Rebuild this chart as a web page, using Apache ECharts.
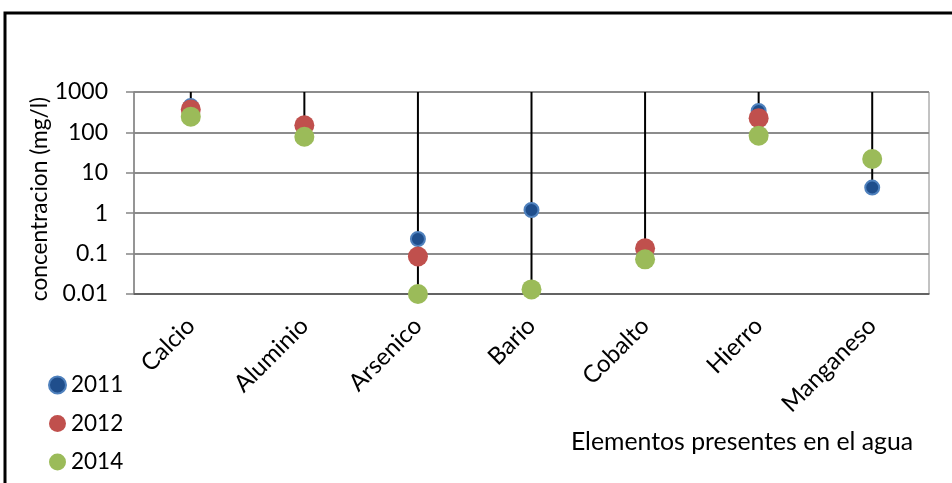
<!DOCTYPE html>
<html>
<head>
<meta charset="utf-8">
<script src="https://cdn.jsdelivr.net/npm/echarts@6/dist/echarts.min.js"></script>
<style>
  html, body { margin: 0; padding: 0; background: #fff; }
  #chart { width: 952px; height: 483px; }
</style>
</head>
<body>
<div id="chart"></div>
<script>
// Elements measured in water samples, concentration in mg/l (log scale)
const categories = ['Calcio', 'Aluminio', 'Arsenico', 'Bario', 'Cobalto', 'Hierro', 'Manganeso'];
const values2011 = [450, null, 0.23, 1.2, null, 340, 4.3];
const values2012 = [370, 150, 0.085, null, 0.135, 225, null];
const values2014 = [245, 78, 0.01, 0.013, 0.072, 83, 22];
const yTicks = [0.01, 0.1, 1, 10, 100, 1000];
const lineTop = 1000; // drop lines start at the top of the value range

const FONT = 'Lato';

// lowest reading of every element, where its drop line ends
const lowest = categories.map((c, i) => {
  const vals = [values2011[i], values2012[i], values2014[i]].filter(v => v != null);
  return Math.min.apply(null, vals);
});

const chart = echarts.init(document.getElementById('chart'));

chart.setOption({
  animation: false,
  backgroundColor: '#fff',
  textStyle: { fontFamily: FONT, color: '#000' },
  grid: {
    left: 134, right: 23, top: 92, bottom: 189,
    show: true, borderColor: '#868686', borderWidth: 1
  },
  xAxis: {
    type: 'category',
    data: categories,
    boundaryGap: true,
    axisLine: { lineStyle: { color: '#555', width: 1.5 } },
    axisTick: { show: false },
    axisLabel: { rotate: 45, margin: 28, fontSize: 24, color: '#000', fontFamily: FONT, interval: 0 },
    splitLine: { show: false }
  },
  yAxis: {
    type: 'log',
    logBase: 10,
    min: yTicks[0],
    max: yTicks[yTicks.length - 1],
    axisLine: { show: true, lineStyle: { color: '#868686', width: 1.5 } },
    axisTick: { show: true, inside: false, length: 8, lineStyle: { color: '#868686', width: 1.5 } },
    axisLabel: {
      margin: 26, fontSize: 23, color: '#000', fontFamily: FONT,
      formatter: v => String(parseFloat(Number(v).toPrecision(6)))
    },
    splitLine: { show: true, lineStyle: { color: '#8c8c8c', width: 2 } }
  },
  legend: {
    orient: 'vertical',
    left: 48, top: 372, padding: 0,
    itemWidth: 17, itemHeight: 17, itemGap: 12.5,
    icon: 'circle',
    textStyle: { fontSize: 22.5, lineHeight: 26, color: '#000', fontFamily: FONT },
    data: ['2011', '2012', '2014']
  },
  graphic: [
    {
      type: 'rect', silent: true, z: 100,
      shape: { x: 5, y: 13, width: 1000, height: 600 },
      style: { fill: null, stroke: '#000', lineWidth: 3 }
    },
    {
      type: 'text', silent: true,
      x: 40, y: 199, rotation: Math.PI / 2,
      style: { text: 'concentracion (mg/l)', font: '22.7px ' + FONT, fill: '#000', align: 'center', verticalAlign: 'middle' }
    },
    {
      type: 'text', silent: true,
      x: 742, y: 442,
      style: { text: 'Elementos presentes en el agua', font: '24.8px ' + FONT, fill: '#000', align: 'center', verticalAlign: 'middle' }
    }
  ],
  series: [
    {
      name: 'drop',
      type: 'custom',
      z: 1,
      data: categories.map((c, i) => [i, lineTop, lowest[i]]),
      encode: { x: 0, y: [1, 2] },
      renderItem: (params, api) => {
        const top = api.coord([api.value(0), api.value(1)]);
        const bottom = api.coord([api.value(0), api.value(2)]);
        return {
          type: 'line',
          shape: { x1: top[0], y1: top[1], x2: bottom[0], y2: bottom[1] },
          style: { stroke: '#000', lineWidth: 2 }
        };
      }
    },
    {
      name: '2011', type: 'scatter', z: 3,
      data: values2011,
      symbol: 'circle', symbolSize: 14,
      itemStyle: { color: '#1F4E8C', borderColor: '#4F81BD', borderWidth: 2, opacity: 1 }
    },
    {
      name: '2012', type: 'scatter', z: 4,
      data: values2012,
      symbol: 'circle', symbolSize: 20,
      itemStyle: { color: '#C0504D', opacity: 1 }
    },
    {
      name: '2014', type: 'scatter', z: 5,
      data: values2014,
      symbol: 'circle', symbolSize: 20,
      itemStyle: { color: '#9BBB59', opacity: 1 }
    }
  ]
});
</script>
</body>
</html>
